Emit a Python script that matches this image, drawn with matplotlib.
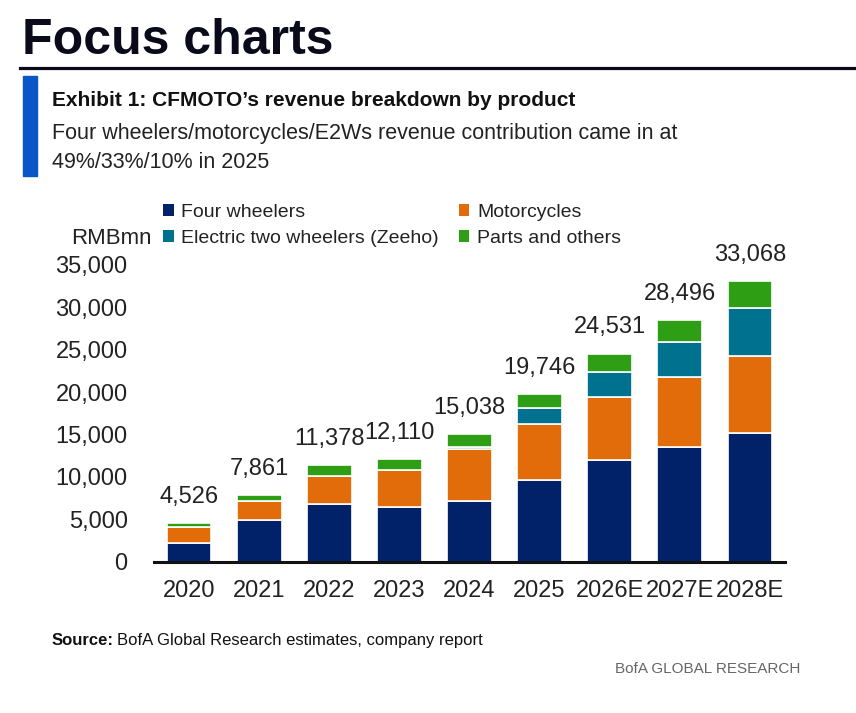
import numpy as np
import matplotlib
matplotlib.use("Agg")
import matplotlib.pyplot as plt
from matplotlib.patches import Rectangle, Patch
from matplotlib.lines import Line2D

plt.rcParams['font.family'] = ['Liberation Sans', 'DejaVu Sans']

# data (RMBmn)
years = ['2020', '2021', '2022', '2023', '2024', '2025', '2026E', '2027E', '2028E']
four_wheelers = [2150, 4900, 6771, 6453, 7160, 9676, 11997, 13531, 15218]
motorcycles = [1890, 2260, 3374, 4400, 6100, 6516, 7397, 8293, 9083]
e2w = [0, 0, 0, 0, 306, 1975, 2984, 4128, 5663]
parts = [486, 701, 1233, 1257, 1472, 1579, 2153, 2544, 3104]
totals = [4526, 7861, 11378, 12110, 15038, 19746, 24531, 28496, 33068]

series = ['Four wheelers', 'Motorcycles', 'Electric two wheelers (Zeeho)', 'Parts and others']
colors = ['#012169', '#E36C0A', '#00718F', '#2E9E14']

W, H = 856, 713
fig = plt.figure(figsize=(W / 100, H / 100), dpi=100)

def fx(px):
    return px / W

def fy(py):
    return 1 - py / H

# header
fig.text(fx(22), fy(54), 'Focus charts', fontsize=36, fontweight='bold', color='#0a0a1a', va='baseline')
fig.add_artist(Line2D([fx(20), 1], [fy(68), fy(68)], color='#0a0a1a', lw=2.3))
fig.add_artist(Rectangle((fx(23), fy(176)), fx(14), (176 - 76) / H, color='#0A55C8'))
fig.text(fx(52), fy(106), 'Exhibit 1: CFMOTO\u2019s revenue breakdown by product', fontsize=15,
         fontweight='bold', color='#111111', va='baseline')
fig.text(fx(52), fy(139), 'Four wheelers/motorcycles/E2Ws revenue contribution came in at',
         fontsize=15.5, color='#222222', va='baseline')
fig.text(fx(52), fy(168), '49%/33%/10% in 2025', fontsize=15.5, color='#222222', va='baseline')

# chart
ax = fig.add_axes([fx(154), fy(561.7), fx(785 - 154), (561.7 - 265) / H])
x = np.arange(len(years))
bottom = np.zeros(len(years))
handles = []
for vals, name, c in zip([four_wheelers, motorcycles, e2w, parts], series, colors):
    ax.bar(x, vals, width=0.64, bottom=bottom, color=c, edgecolor='white', linewidth=1.2)
    bottom += np.array(vals)
    handles.append(Patch(facecolor=c, label=name))

for xi, t in zip(x, totals):
    ax.annotate(f'{t:,}', (xi, t), xytext=(0, 11), textcoords='offset points',
                ha='center', va='bottom', fontsize=17, color='#222222')

ax.set_xlim(-0.5, len(years) - 0.5)
ax.set_ylim(0, 35000)
ax.set_yticks(range(0, 35001, 5000))
ax.set_yticklabels([f'{v:,}' for v in range(0, 35001, 5000)])
ax.set_xticks(x)
ax.set_xticklabels(years)
ax.tick_params(axis='y', length=0, pad=19, labelsize=17, labelcolor='#222222')
ax.tick_params(axis='x', length=0, pad=13, labelsize=17, labelcolor='#222222')
for s in ['top', 'right', 'left']:
    ax.spines[s].set_visible(False)
ax.spines['bottom'].set_linewidth(2.2)
ax.spines['bottom'].set_color('#111111')

# legend (column order: 4W, E2W | Moto, Parts)
leg = fig.legend([handles[0], handles[2], handles[1], handles[3]],
                 [series[0], series[2], series[1], series[3]],
                 ncol=2, loc='upper left', bbox_to_anchor=(fx(163), fy(204)),
                 frameon=False, fontsize=14, handlelength=0.55, handleheight=0.55,
                 handletextpad=0.4, columnspacing=1.0, labelspacing=0.45,
                 borderpad=0, borderaxespad=0)
for t in leg.get_texts():
    t.set_color('#222222')
fig.text(fx(152), fy(239), 'RMBmn', fontsize=16, color='#222222', ha='right', va='center')

# footer
src = fig.text(fx(52), fy(645), 'Source:', fontsize=12, fontweight='bold', color='#111111',
               va='baseline')
fig.canvas.draw()
bb = src.get_window_extent()
fig.text(bb.x1 / W + fx(3), fy(645), 'BofA Global Research estimates, company report',
         fontsize=12, color='#111111', va='baseline')
fig.text(fx(800), fy(673), 'BofA GLOBAL RESEARCH', fontsize=11, color='#666666',
         ha='right', va='baseline')

fig.savefig('out.png', dpi=100)
